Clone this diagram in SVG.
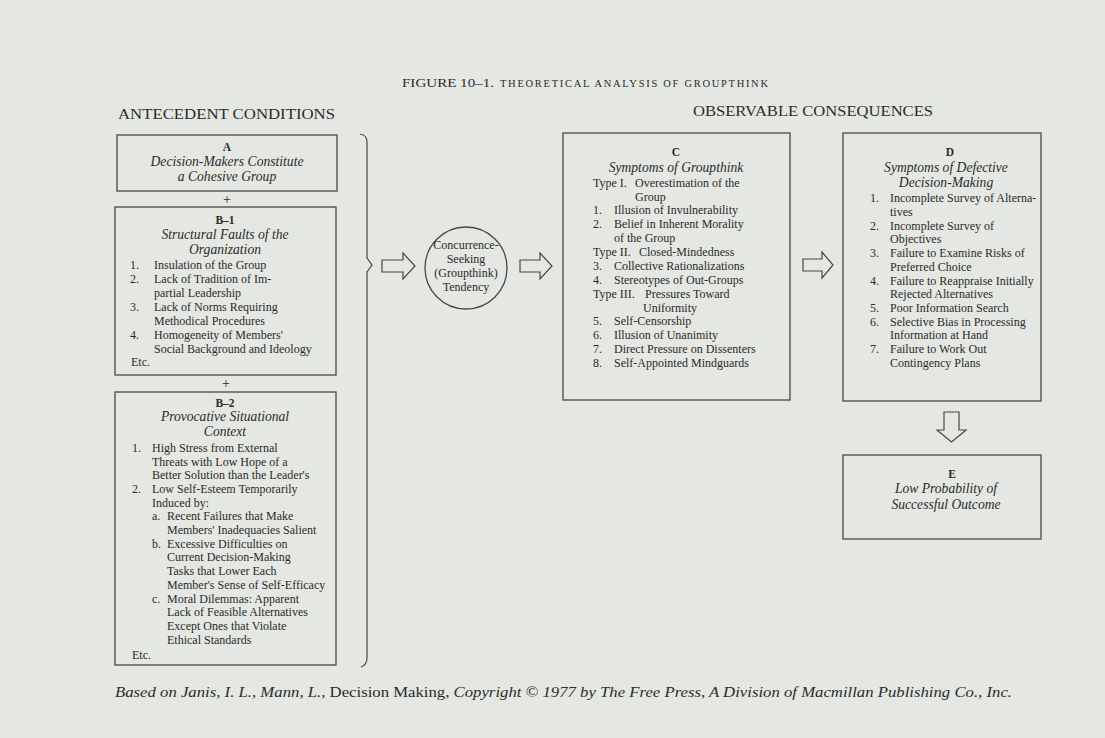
<svg xmlns="http://www.w3.org/2000/svg" width="1105" height="738" viewBox="0 0 1105 738">
<style>
  .bg{fill:#e4e7e2}
  .box{fill:none;stroke:#484848;stroke-width:1.3}
  .arr{fill:none;stroke:#484848;stroke-width:1.2;stroke-linejoin:miter}
  text{font-family:"Liberation Serif","Times New Roman",serif;fill:#2b2b2b}
  .b{font-size:12px}
  .h{font-size:13.6px;font-style:italic}
  .l{font-size:11.5px;font-weight:bold}
  .c{text-anchor:middle}
  .hd{font-size:15px}
  .it{font-style:italic}
</style>
<rect class="bg" x="0" y="0" width="1105" height="738"/>
<g id="title">
  <text x="402" y="87" font-size="13" textLength="92" lengthAdjust="spacingAndGlyphs">FIGURE 10–1.</text>
  <text x="500" y="87" font-size="10.5" textLength="268" lengthAdjust="spacing">THEORETICAL ANALYSIS OF GROUPTHINK</text>
</g>
<g id="headers">
  <text class="hd" x="118" y="119" textLength="217" lengthAdjust="spacingAndGlyphs">ANTECEDENT CONDITIONS</text>
  <text class="hd" x="693" y="116" textLength="240" lengthAdjust="spacingAndGlyphs">OBSERVABLE CONSEQUENCES</text>
</g>
<g id="nodeA">
  <rect class="box" x="117" y="135" width="220" height="56"/>
  <text class="l c" x="227" y="151">A</text>
  <text class="h c" x="227" y="166">Decision-Makers Constitute</text>
  <text class="h c" x="227" y="181">a Cohesive Group</text>
</g>
<g id="plus1"><text class="c" x="227" y="204" font-size="14">+</text></g>
<g id="nodeB1">
  <rect class="box" x="115" y="207" width="221" height="168"/>
  <text class="l c" x="225" y="224">B–1</text>
  <text class="h c" x="225" y="239">Structural Faults of the</text>
  <text class="h c" x="225" y="254">Organization</text>
  <g class="b">
    <text x="130" y="269">1.</text><text x="154" y="269">Insulation of the Group</text>
    <text x="130" y="283">2.</text><text x="154" y="283">Lack of Tradition of Im-</text>
    <text x="154" y="297">partial Leadership</text>
    <text x="130" y="311">3.</text><text x="154" y="311">Lack of Norms Requiring</text>
    <text x="154" y="325">Methodical Procedures</text>
    <text x="130" y="339">4.</text><text x="154" y="339">Homogeneity of Members'</text>
    <text x="154" y="353">Social Background and Ideology</text>
    <text x="131" y="366">Etc.</text>
  </g>
</g>
<g id="plus2"><text class="c" x="226" y="388" font-size="14">+</text></g>
<g id="nodeB2">
  <rect class="box" x="115" y="392" width="221" height="273"/>
  <text class="l c" x="225" y="407">B–2</text>
  <text class="h c" x="225" y="421">Provocative Situational</text>
  <text class="h c" x="225" y="436">Context</text>
  <g class="b">
    <text x="132" y="452">1.</text><text x="152" y="452">High Stress from External</text>
    <text x="152" y="466">Threats with Low Hope of a</text>
    <text x="152" y="479">Better Solution than the Leader's</text>
    <text x="132" y="493">2.</text><text x="152" y="493">Low Self-Esteem Temporarily</text>
    <text x="152" y="507">Induced by:</text>
    <text x="152" y="520">a.</text><text x="167" y="520">Recent Failures that Make</text>
    <text x="167" y="534">Members' Inadequacies Salient</text>
    <text x="152" y="548">b.</text><text x="167" y="548">Excessive Difficulties on</text>
    <text x="167" y="561">Current Decision-Making</text>
    <text x="167" y="575">Tasks that Lower Each</text>
    <text x="167" y="589">Member's Sense of Self-Efficacy</text>
    <text x="152" y="603">c.</text><text x="167" y="603">Moral Dilemmas: Apparent</text>
    <text x="167" y="616">Lack of Feasible Alternatives</text>
    <text x="167" y="630">Except Ones that Violate</text>
    <text x="167" y="644">Ethical Standards</text>
    <text x="132" y="659">Etc.</text>
  </g>
</g>
<g id="brace">
  <path class="arr" d="M360,134 Q367,135 367,142 L367,258 L372,265 L367,272 L367,658 Q367,665 361,667"/>
</g>
<g id="nodeTendency">
  <circle class="box" cx="466" cy="268" r="41"/>
  <g class="c" font-size="12">
    <text x="466" y="249">Concurrence-</text>
    <text x="466" y="263">Seeking</text>
    <text x="466" y="277">(Groupthink)</text>
    <text x="466" y="291">Tendency</text>
  </g>
</g>
<g id="nodeC">
  <rect class="box" x="563" y="133" width="227" height="267"/>
  <text class="l c" x="676" y="156">C</text>
  <text class="h c" x="676" y="172">Symptoms of Groupthink</text>
  <g class="b">
    <text x="593" y="187">Type I.</text><text x="635" y="187">Overestimation of the</text>
    <text x="635" y="201">Group</text>
    <text x="593" y="214">1.</text><text x="614" y="214">Illusion of Invulnerability</text>
    <text x="593" y="228">2.</text><text x="614" y="228">Belief in Inherent Morality</text>
    <text x="614" y="242">of the Group</text>
    <text x="593" y="256">Type II.</text><text x="639" y="256">Closed-Mindedness</text>
    <text x="593" y="270">3.</text><text x="614" y="270">Collective Rationalizations</text>
    <text x="593" y="284">4.</text><text x="614" y="284">Stereotypes of Out-Groups</text>
    <text x="593" y="298">Type III.</text><text x="645" y="298">Pressures Toward</text>
    <text x="643" y="312">Uniformity</text>
    <text x="593" y="325">5.</text><text x="614" y="325">Self-Censorship</text>
    <text x="593" y="339">6.</text><text x="614" y="339">Illusion of Unanimity</text>
    <text x="593" y="353">7.</text><text x="614" y="353">Direct Pressure on Dissenters</text>
    <text x="593" y="367">8.</text><text x="614" y="367">Self-Appointed Mindguards</text>
  </g>
</g>
<g id="nodeD">
  <rect class="box" x="843" y="133" width="198" height="268"/>
  <text class="l c" x="950" y="156">D</text>
  <text class="h c" x="946" y="172">Symptoms of Defective</text>
  <text class="h c" x="946" y="187">Decision-Making</text>
  <g class="b">
    <text x="870" y="202">1.</text><text x="890" y="202">Incomplete Survey of Alterna-</text>
    <text x="890" y="216">tives</text>
    <text x="870" y="230">2.</text><text x="890" y="230">Incomplete Survey of</text>
    <text x="890" y="243">Objectives</text>
    <text x="870" y="257">3.</text><text x="890" y="257">Failure to Examine Risks of</text>
    <text x="890" y="271">Preferred Choice</text>
    <text x="870" y="285">4.</text><text x="890" y="285">Failure to Reappraise Initially</text>
    <text x="890" y="298">Rejected Alternatives</text>
    <text x="870" y="312">5.</text><text x="890" y="312">Poor Information Search</text>
    <text x="870" y="326">6.</text><text x="890" y="326">Selective Bias in Processing</text>
    <text x="890" y="339">Information at Hand</text>
    <text x="870" y="353">7.</text><text x="890" y="353">Failure to Work Out</text>
    <text x="890" y="367">Contingency Plans</text>
  </g>
</g>
<g id="nodeE">
  <rect class="box" x="843" y="455" width="198" height="84"/>
  <text class="l c" x="952" y="478">E</text>
  <text class="h c" x="946" y="493">Low Probability of</text>
  <text class="h c" x="946" y="509">Successful Outcome</text>
</g>
<g id="connectors">
  <path class="arr" d="M382,260 L403,260 L403,253 L415,266 L403,279 L403,272 L382,272 Z"/>
  <path class="arr" d="M520,260 L540,260 L540,253 L552,266 L540,279 L540,272 L520,272 Z"/>
  <path class="arr" d="M803,259 L822,259 L822,252 L833,265 L822,278 L822,271 L803,271 Z"/>
  <path class="arr" d="M944,412 L959,412 L959,430 L966,430 L951.5,442 L937,430 L944,430 Z"/>
</g>
<g id="footer">
  <text x="115" y="697" font-size="15" textLength="897" lengthAdjust="spacingAndGlyphs"><tspan class="it">Based on Janis, I. L., Mann, L.,</tspan> Decision Making, <tspan class="it">Copyright © 1977 by The Free Press, A Division of Macmillan Publishing Co., Inc.</tspan></text>
</g>
</svg>
